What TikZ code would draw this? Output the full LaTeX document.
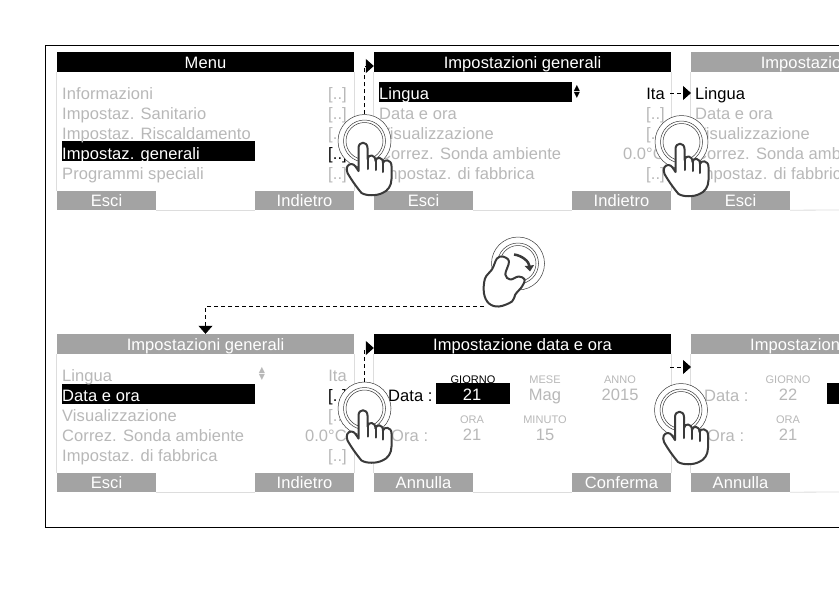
\documentclass[tikz,border=0pt]{standalone}
\usepackage{fontspec}
\usetikzlibrary{arrows.meta, calc, backgrounds}
\newfontfamily\lcdfont[LetterSpace=0.5]{Liberation Sans}
\newfontfamily\symfont{DejaVu Sans}
\definecolor{dimtext}{HTML}{B8B8B8}
\definecolor{softkey}{HTML}{A3A3A3}
\definecolor{panelline}{HTML}{DDDDDD}
\definecolor{handline}{HTML}{3A3A3A}
\tikzset{
taphand/.pic={
\node[tapring] (ring) at (0,0) {};
\draw[ringline] (0,0) circle (21);
\draw[ringline] (0,0) circle (18.5);
\draw[handstroke, fill=white] (-6,30) -- (-6,7) .. controls (-6,0) and (3,0) .. (3,7) -- (3,18) .. controls (3.5,13) and (11,13) .. (11,20) .. controls (11.5,15.5) and (18.5,15.5) .. (18.5,22) .. controls (19,18) and (27,18) .. (27,25) -- (27,38) .. controls (27,45) and (23,50) .. (18,52) .. controls (12,55) and (2,55) .. (-3,52) .. controls (-8,46) and (-13,39) .. (-17,32) .. controls (-19,27) and (-17,23) .. (-13,23) .. controls (-10,23) and (-8,27) .. (-6,30);
\draw[handstroke] (3,18) -- (3,28);
\draw[handstroke] (11,20) -- (11,29);
\draw[handstroke] (18.5,22) -- (18.5,31);
},
twisthand/.pic={
\node[tapring] (ring) at (0,0) {};
\draw[ringline] (0,0) circle (20.5);
\draw[ringline] (0,0) circle (18);
\draw[handstroke, fill=white] plot[smooth cycle, tension=0.6] coordinates {(-15,-7) (-9,-2) (-12.7,11) (-7.7,16) (0.7,13) (6.7,16) (4,23) (-2.7,31) (-6,38) (-19,43) (-29,40) (-34,30) (-33,15) (-26,6) (-21,-5)};
\draw[handstroke, line width=2.5, line cap=butt, -{Triangle[length=6,width=9]}] (-4,-9) .. controls (4,-8) and (11,-2) .. (12,8);
}
}
\begin{document}
\begin{tikzpicture}[
x=1pt, y=-1pt,
hdron/.style={rectangle, fill=black, text=white, minimum width=297, minimum height=20, inner sep=0, text height=14, text depth=2, font=\lcdfont\fontsize{16.5}{16.5}\selectfont},
hdroff/.style={hdron, fill=softkey},
softbtn/.style={rectangle, fill=softkey, text=white, minimum width=99, minimum height=19, inner sep=0, text height=14, text depth=2, font=\lcdfont\fontsize{16.5}{16.5}\selectfont},
rowtext/.style={anchor=west, inner sep=0, text height=14, text depth=2, text=dimtext, font=\lcdfont\fontsize{16.5}{16.5}\selectfont},
rowsel/.style={rectangle, anchor=west, fill=black, minimum width=193, minimum height=20, inner sep=0},
rowval/.style={rowtext, anchor=east},
smalltxt/.style={inner sep=0, text=dimtext, text height=8, text depth=0, font=\lcdfont\fontsize{11}{11}\selectfont},
bigtxt/.style={inner sep=0, text=dimtext, text height=12, text depth=2, font=\lcdfont\fontsize{16.5}{16.5}\selectfont},
updown/.style={inner sep=0, align=center, font=\symfont\fontsize{8}{7}\selectfont},
tapring/.style={circle, draw=handline, line width=0.5, fill=white, minimum size=53, inner sep=0},
ringline/.style={draw=handline, line width=0.5},
handstroke/.style={draw=handline, line width=2, line join=round, line cap=round},
sideline/.style={draw=panelline, line width=0.8},
dashline/.style={draw=black, line width=0.8, dash pattern=on 4 off 3},
arrow/.style={-{Triangle[length=8,width=14]}, draw=black, line width=0.8, dash pattern=on 4 off 3}
]
\clip (0,0) rectangle (839,595);
\fill[white] (0,0) rectangle (839,595);
\draw[line width=1] (45,45) rectangle (900,527);

% top left
\node[hdron] (hdrA) at (205.5,62) {Menu};
\node[softbtn] (esciA) at (106.5,200.5) {Esci};
\node[softbtn] (indA) at (304.5,200.5) {Indietro};
\node[rowsel] (impgenA) at (62,151) {};
\node[rowtext] (infoA) at (62,93) {Informazioni};
\node[rowtext] (saniA) at (62,113) {Impostaz. Sanitario};
\node[rowtext] (riscA) at (62,133) {Impostaz. Riscaldamento};
\node[rowtext, text=white] (genA) at (62,153) {Impostaz. generali};
\node[rowtext] (specA) at (62,173) {Programmi speciali};
\node[rowval] (vinfoA) at (347,93) {[..]};
\node[rowval] (vsaniA) at (347,113) {[..]};
\node[rowval] (vriscA) at (347,133) {[..]};
\node[rowval, text=black] (vgenA) at (347,153) {[..]};
\node[rowval] (vspecA) at (347,173) {[..]};
\draw[sideline] (hdrA.south west) -- (esciA.north west);
\draw[sideline] (hdrA.south east) -- (indA.north east);
\draw[sideline] (esciA.south east) -- (indA.south west);

% top middle
\node[hdron] (hdrB) at (522.5,62) {Impostazioni generali};
\node[softbtn] (esciB) at (423.5,200.5) {Esci};
\node[softbtn] (indB) at (621.5,200.5) {Indietro};
\node[rowsel] (linSelB) at (379,92) {};
\node[rowtext, text=white] (linB) at (379,93) {Lingua};
\node[updown] (arrB) at (577,92) {▲\\▼};
\node[rowtext] (dataB) at (379,113) {Data e ora};
\node[rowtext] (visB) at (379,133) {Visualizzazione};
\node[rowtext] (corrB) at (379,153) {Correz. Sonda ambiente};
\node[rowtext] (fabbB) at (379,173) {Impostaz. di fabbrica};
\node[rowval, text=black] (itaB) at (665,93) {Ita};
\node[rowval] (vdataB) at (665,113) {[..]};
\node[rowval] (vvisB) at (665,133) {[..]};
\node[rowval] (vcorrB) at (665,153) {0.0°C};
\node[rowval] (vfabbB) at (665,173) {[..]};
\draw[sideline] (hdrB.south west) -- (esciB.north west);
\draw[sideline] (hdrB.south east) -- (indB.north east);
\draw[sideline] (esciB.south east) -- (indB.south west);

% top right
\node[hdroff] (hdrC) at (839.5,62) {Impostazioni generali};
\node[softbtn] (esciC) at (740.5,200.5) {Esci};
\node[rowtext, text=black] (linC) at (695,93) {Lingua};
\node[rowtext] (dataC) at (695,113) {Data e ora};
\node[rowtext] (visC) at (695,133) {Visualizzazione};
\node[rowtext] (corrC) at (695,153) {Correz. Sonda ambiente};
\node[rowtext] (fabbC) at (695,173) {Impostaz. di fabbrica};
\coordinate (endC) at (839,210);
\draw[sideline] (hdrC.south west) -- (esciC.north west);
\draw[sideline] (esciC.south east) -- (endC);

% bottom left
\node[hdroff] (hdrD) at (205.5,344) {Impostazioni generali};
\node[softbtn] (esciD) at (106.5,482.5) {Esci};
\node[softbtn] (indD) at (304.5,482.5) {Indietro};
\node[rowsel] (dataSelD) at (62,394) {};
\node[rowtext] (linD) at (62,375) {Lingua};
\node[updown, text=dimtext] (arrD) at (262,374) {▲\\▼};
\node[rowtext, text=white] (dataD) at (62,395) {Data e ora};
\node[rowtext] (visD) at (62,415) {Visualizzazione};
\node[rowtext] (corrD) at (62,435) {Correz. Sonda ambiente};
\node[rowtext] (fabbD) at (62,455) {Impostaz. di fabbrica};
\node[rowval] (itaD) at (347,375) {Ita};
\node[rowval, text=black] (vdataD) at (347,395) {[..]};
\node[rowval] (vvisD) at (347,415) {[..]};
\node[rowval] (vcorrD) at (347,435) {0.0°C};
\node[rowval] (vfabbD) at (347,455) {[..]};
\draw[sideline] (hdrD.south west) -- (esciD.north west);
\draw[sideline] (hdrD.south east) -- (indD.north east);
\draw[sideline] (esciD.south east) -- (indD.south west);

% bottom middle
\node[hdron] (hdrE) at (522.5,344) {Impostazione data e ora};
\node[softbtn] (annE) at (423.5,482.5) {Annulla};
\node[softbtn] (confE) at (621.5,482.5) {Conferma};
\node[rowtext, text=black] (dataE) at (388,395) {Data :};
\node[rowtext] (oraE) at (391,435) {Ora :};
\node[rectangle, fill=black, minimum width=74, minimum height=21, inner sep=0] (daySelE) at (473,393.5) {};
\node[smalltxt, text=black] (giornoE) at (473,379) {GIORNO};
\node[smalltxt] (meseE) at (545,379) {MESE};
\node[smalltxt] (annoE) at (620,379) {ANNO};
\node[bigtxt, text=white] (dayE) at (472,395) {21};
\node[bigtxt] (magE) at (545,395) {Mag};
\node[bigtxt] (yearE) at (620,395) {2015};
\node[smalltxt] (lblOraE) at (472,419) {ORA};
\node[smalltxt] (lblMinE) at (545,419) {MINUTO};
\node[bigtxt] (hourE) at (472,435) {21};
\node[bigtxt] (minE) at (545,435) {15};
\draw[sideline] (hdrE.south west) -- (annE.north west);
\draw[sideline] (hdrE.south east) -- (confE.north east);
\draw[sideline] (annE.south east) -- (confE.south west);

% bottom right
\node[hdroff] (hdrF) at (839.5,344) {Impostazione data e ora};
\node[softbtn] (annF) at (740.5,482.5) {Annulla};
\node[rowtext] (dataF) at (704,395) {Data :};
\node[rowtext] (oraF) at (707,435) {Ora :};
\node[smalltxt] (giornoF) at (788,379) {GIORNO};
\node[bigtxt] (dayF) at (788,395) {22};
\node[rectangle, fill=black, minimum width=74, minimum height=21, inner sep=0] (monthSelF) at (864,393.5) {};
\node[smalltxt] (lblOraF) at (788,419) {ORA};
\node[bigtxt] (hourF) at (788,435) {21};
\coordinate (endF) at (839,492);
\draw[sideline] (hdrF.south west) -- (annF.north west);
\draw[sideline] (annF.south east) -- (endF);

% gestures
\pic (tapA) at (364.5,141) {taphand};
\pic (tapB) at (681.5,142) {taphand};
\pic (tapD) at (364.5,408.5) {taphand};
\pic (tapE) at (681,410) {taphand};
\pic (twist) at (518,263.5) {twisthand};

\coordinate (twistin) at (513,210);
\coordinate (twistout) at (484,306.5);
\coordinate (inF) at (670,367);
\coordinate (outF) at (691,367);

\begin{scope}[on background layer]
\draw[dashline] ($(impgenA.east)+(8,2)$) -- (tapAring.center |- genA);
\draw[dashline] ($(dataSelD.east)+(8,1)$) -- (tapDring.center |- dataD);
\draw[dashline] (twistin) -- (twistin |- twistring.north);
\end{scope}
\draw[arrow] (tapAring.north) |- ($(hdrB.west)+(0,4)$);
\draw[arrow] (tapDring.north) |- ($(hdrE.west)+(0,4)$);
\draw[arrow, shorten <=5, shorten >=4] (itaB.east) -- (linC.west);
\draw[arrow] (inF) -- (outF);
\draw[arrow] (twistout) -| (hdrD.north);
\end{tikzpicture}
\end{document}
